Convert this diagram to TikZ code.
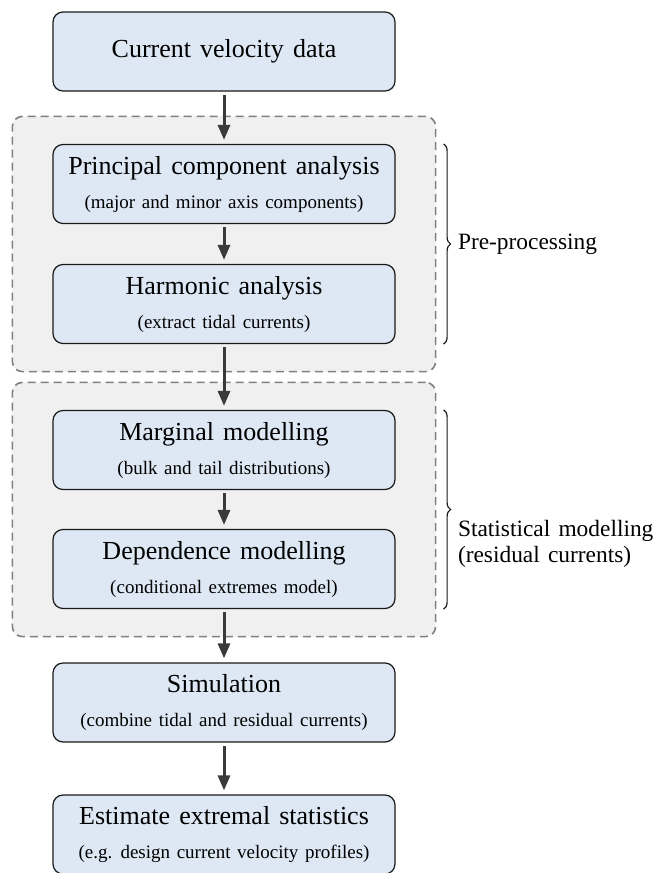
\documentclass[tikz,border=0pt]{standalone}
\usepackage{fontspec}
\setmainfont{Liberation Serif}[WordSpace=1.4]
\usetikzlibrary{arrows.meta,positioning,calc,fit,backgrounds,decorations.pathreplacing}
\definecolor{boxfill}{HTML}{DDE8F4}
\definecolor{groupfill}{HTML}{F0F0F0}
\definecolor{groupline}{HTML}{808080}
\definecolor{linkcol}{HTML}{3A3A3A}
\definecolor{textcol}{HTML}{1A1A1A}
\newcommand{\titlesize}{\fontsize{13}{15}\selectfont}
\newcommand{\subsize}{\fontsize{9.5}{11}\selectfont}
\newcommand{\labelsize}{\fontsize{11.7}{13}\selectfont}
\tikzset{
  stage/.style={draw=textcol, fill=boxfill, rounded corners=5pt, line width=0.6pt,
                align=center, minimum width=171pt, minimum height=39.5pt,
                inner sep=0pt, font=\titlesize},
  group/.style={draw=groupline, fill=groupfill, dash pattern=on 4pt off 2.5pt,
                rounded corners=5pt, line width=0.8pt, inner xsep=20pt, inner ysep=13.75pt},
  arrow/.style={-{Triangle[length=7.5pt,width=6pt]}, line width=1.5pt, draw=linkcol,
                shorten <=1.5pt, shorten >=2pt},
  bracket/.style={decorate, decoration={brace, amplitude=3.5pt}, draw=textcol, line width=0.6pt},
  sidelabel/.style={font=\labelsize, anchor=west, align=left, inner sep=0pt}
}

\begin{document}
\begin{tikzpicture}[x=0.5pt,y=-0.5pt]
        \useasboundingbox (0,0) rectangle (655,873);

        \node[stage] (cvd) at (224,51.5) {Current velocity data};
        \node[stage] (pca) at (224,184) {Principal component analysis\\[2pt]{\subsize (major and minor axis components)}};
        \node[stage] (har) at (224,304) {Harmonic analysis\\[2pt]{\subsize (extract tidal currents)}};
        \node[stage] (marg) at (224,450) {Marginal modelling\\[2pt]{\subsize (bulk and tail distributions)}};
        \node[stage] (dep) at (224,569) {Dependence modelling\\[2pt]{\subsize (conditional extremes model)}};
        \node[stage] (sim) at (224,702.5) {Simulation\\[2pt]{\subsize (combine tidal and residual currents)}};
        \node[stage] (est) at (224,834.5) {Estimate extremal statistics\\[2pt]{\subsize (e.g. design current velocity profiles)}};

        % dashed groups behind the stages
        \begin{pgfonlayer}{background}
          \node[group,fit=(pca)(har)] (prep) {};
          \node[group,fit=(marg)(dep)] (stat) {};
        \end{pgfonlayer}

        \draw[arrow] (cvd) -- (pca);
        \draw[arrow] (pca) -- (har);
        \draw[arrow] (har) -- (marg);
        \draw[arrow] (marg) -- (dep);
        \draw[arrow] (dep) -- (sim);
        \draw[arrow] (sim) -- (est);

        \coordinate (b1top) at ([xshift=24pt]pca.north east);
        \coordinate (b1bot) at ([xshift=24pt]har.south east);
        \coordinate (b2top) at ([xshift=24pt]marg.north east);
        \coordinate (b2bot) at ([xshift=24pt]dep.south east);
        \draw[bracket] (b1top) -- (b1bot);
        \draw[bracket] (b2top) -- (b2bot);
        \node[sidelabel] (prelbl) at ([xshift=7pt]$(b1top)!0.5!(b1bot)$) {Pre-processing};
        \node[sidelabel] (statlbl) at ([xshift=7pt,yshift=-17pt]$(b2top)!0.5!(b2bot)$) {Statistical modelling\\(residual currents)};
\end{tikzpicture}
\end{document}
